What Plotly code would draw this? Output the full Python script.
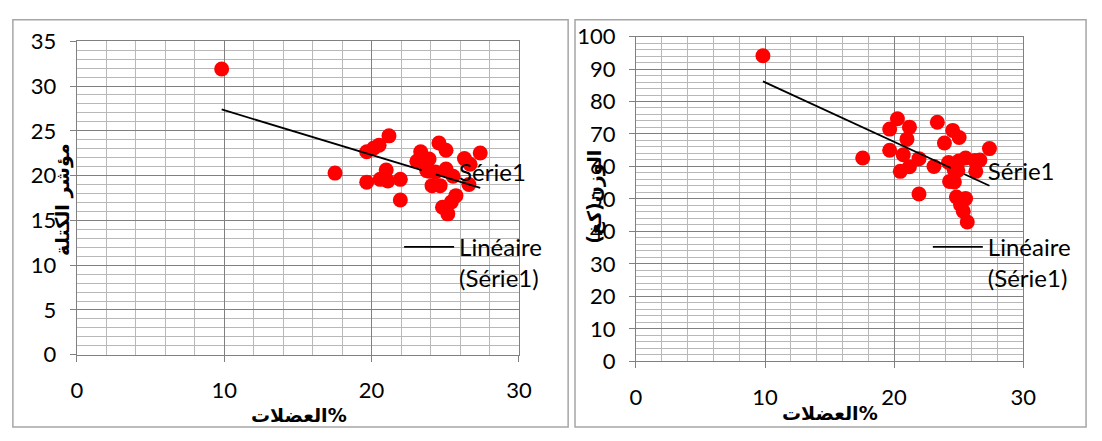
import numpy as np
import plotly.graph_objects as go

# Panel A: % muscle vs body-mass index
muscle_a = [9.83, 17.52, 19.67, 19.67, 20.15, 20.51, 21.18, 20.58, 20.99, 21.10,
            21.95, 21.95, 23.07, 23.33, 23.60, 23.90, 23.74, 24.57, 25.05, 24.10,
            24.65, 25.05, 25.53, 26.30, 26.68, 26.60, 27.37, 25.72, 25.41, 24.81,
            25.17, 24.33]
bmi = [31.9, 20.28, 22.66, 19.27, 23.08, 23.4, 24.44, 19.58, 20.63, 19.4,
       19.58, 17.27, 21.6, 22.66, 21.8, 21.85, 20.56, 23.64, 22.83, 18.88,
       18.88, 20.73, 19.93, 21.9, 21.26, 19.0, 22.52, 17.76, 17.06, 16.47,
       15.73, 20.4]

# Panel B: % muscle vs weight (kg)
muscle_b = [9.84, 17.57, 19.66, 19.66, 20.26, 21.19, 21.00, 20.71, 20.48, 21.19,
            21.93, 21.93, 23.35, 23.90, 24.54, 25.04, 23.09, 24.22, 24.67, 24.30,
            24.67, 25.01, 25.54, 26.25, 26.65, 26.33, 27.39, 24.83, 25.54, 25.15,
            25.36, 25.67]
weight = [94.1, 62.6, 71.5, 65.0, 74.7, 72.1, 68.4, 63.6, 58.5, 59.9,
          62.4, 51.5, 73.6, 67.2, 71.1, 68.9, 60.0, 61.2, 58.8, 55.4,
          55.2, 61.7, 62.6, 61.8, 62.0, 58.5, 65.5, 50.6, 50.1, 48.2,
          46.2, 42.9]

x_title = "العضلات%"
y_title_a = "مؤشر الكتلة"
y_title_b = "الوزن(كغ)\u200f"
series_name = "Série1"
trend_name = "Linéaire<br>(Série1)"

W, H = 1102, 441


def fx(p):
    return p / W


def fy(p):
    return 1 - p / H


def trend(x, y):
    slope, icpt = np.polyfit(x, y, 1)
    xs = np.array([min(x), max(x)])
    return xs, slope * xs + icpt


RED = "#ff0000"
MAJOR = "#808080"
MINOR = "#b8b8b8"
TICKFONT = dict(family="Lato", size=22, color="black")
LEGFONT = dict(family="Lato", size=24, color="black")

fig = go.Figure()

for i, (mx, my) in enumerate([(muscle_a, bmi), (muscle_b, weight)]):
    xa = "x" if i == 0 else "x2"
    ya = "y" if i == 0 else "y2"
    fig.add_trace(go.Scatter(
        x=mx, y=my, mode="markers", name=series_name,
        marker=dict(color=RED, size=15, line=dict(width=0)),
        xaxis=xa, yaxis=ya, legend="legend" if i == 0 else "legend3",
    ))
    tx, ty = trend(mx, my)
    fig.add_trace(go.Scatter(
        x=tx, y=ty, mode="lines", name=trend_name,
        line=dict(color="black", width=1.8),
        xaxis=xa, yaxis=ya, legend="legend2" if i == 0 else "legend4",
    ))

axis_base = dict(
    showline=True, linecolor=MAJOR, linewidth=1, mirror=True,
    ticks="outside", ticklen=6, tickcolor=MAJOR, tickwidth=1,
    showgrid=True, gridcolor=MAJOR, gridwidth=1, zeroline=False,
    tickfont=TICKFONT, fixedrange=True,
)

fig.update_layout(
    width=W, height=H,
    showlegend=True,
    margin=dict(l=0, r=0, t=0, b=0),
    paper_bgcolor="white", plot_bgcolor="white",
    xaxis=dict(axis_base, domain=[fx(72), fx(522)], range=[0, 30], dtick=10,
               tick0=0, anchor="y", ticklabelstandoff=10,
               minor=dict(dtick=2, showgrid=True, gridcolor=MINOR, gridwidth=1)),
    yaxis=dict(axis_base, domain=[fy(363), fy(29)], range=[0, 35], dtick=5,
               tick0=0, anchor="x", ticklabelstandoff=9,
               minor=dict(dtick=1, showgrid=True, gridcolor=MINOR, gridwidth=1)),
    xaxis2=dict(axis_base, domain=[fx(641), fx(1035)], range=[0, 30], dtick=10,
                tick0=0, anchor="y2", ticklabelstandoff=10,
                minor=dict(dtick=2, showgrid=True, gridcolor=MINOR, gridwidth=1)),
    yaxis2=dict(axis_base, domain=[fy(370), fy(24)], range=[0, 100], dtick=10,
                tick0=0, anchor="x2", ticklabelstandoff=9,
                minor=dict(dtick=2, showgrid=True, gridcolor=MINOR, gridwidth=1)),
)

leg_base = dict(font=LEGFONT, bgcolor="rgba(0,0,0,0)", borderwidth=0,
                itemwidth=50, xanchor="left", yanchor="middle", valign="top",
                itemclick=False, itemdoubleclick=False)
fig.update_layout(
    legend=dict(leg_base, x=fx(400), y=fy(168)),
    legend2=dict(leg_base, x=fx(400), y=fy(265)),
    legend3=dict(leg_base, x=fx(938), y=fy(167)),
    legend4=dict(leg_base, x=fx(938), y=fy(265)),
)

# Axis titles
AR_FONT = dict(family="DejaVu Sans", size=19, color="black")
ann = [
    dict(text=f"<b>{x_title}</b>", x=fx(298), y=fy(427)),
    dict(text=f"<b>{x_title}</b>", x=fx(838), y=fy(425)),
    dict(text=f"<b>{y_title_a}</b>", x=fx(58), y=fy(198), textangle=-90),
    dict(text=f"<b>{y_title_b}</b>", x=fx(598), y=fy(195), textangle=-90),
]
for a in ann:
    fig.add_annotation(xref="paper", yref="paper", showarrow=False,
                       xanchor="center", yanchor="middle", font=AR_FONT, **a)

# Chart frames
for x0, x1 in [(7, 572), (579, 1099)]:
    fig.add_shape(type="rect", xref="paper", yref="paper",
                  x0=fx(x0), x1=fx(x1), y0=fy(440), y1=fy(6),
                  line=dict(color="#a6a6a6", width=1.5), fillcolor="rgba(0,0,0,0)",
                  layer="below")

fig.write_html("out.html", config={"displayModeBar": False})
